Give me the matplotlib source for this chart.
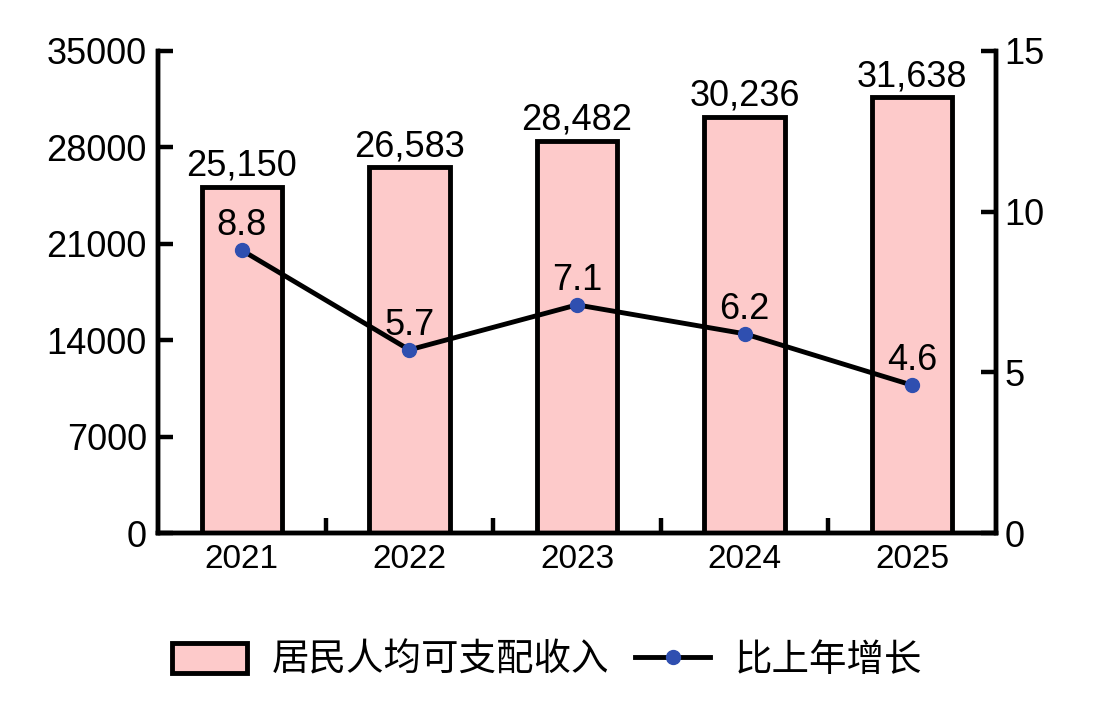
import matplotlib
matplotlib.use("Agg")
import matplotlib.pyplot as plt
from matplotlib.ticker import FixedLocator
import numpy as np

plt.rcParams['font.family'] = ['Liberation Sans', 'Noto Sans CJK SC', 'DejaVu Sans']

years = ["2021", "2022", "2023", "2024", "2025"]
income = [25150, 26583, 28482, 30236, 31638]
growth = [8.8, 5.7, 7.1, 6.2, 4.6]
left_ticks = [0, 7000, 14000, 21000, 28000, 35000]
right_ticks = [0, 5, 10, 15]
bar_label = "居民人均可支配收入"
line_label = "比上年增长"

bar_color = "#FDCACA"
dot_color = "#2F4FB0"

fig = plt.figure(figsize=(10.94, 7.06), dpi=100)
ax = fig.add_axes([0.1444, 0.245, 0.766, 0.6828])
x = np.arange(len(years))

bars = ax.bar(x, income, width=0.48, color=bar_color, edgecolor="black",
              linewidth=3.5, label=bar_label, zorder=2)
ax.set_xlim(-0.5, len(years) - 0.5)
ax.set_ylim(0, 35000)
ax.set_yticks(left_ticks)
ax.set_xticks(x)
ax.set_xticklabels(years, fontsize=24)
ax.xaxis.set_minor_locator(FixedLocator(x[:-1] + 0.5))
ax.tick_params(axis='x', which='major', length=0, pad=8)
ax.tick_params(axis='x', which='minor', direction='in', length=11, width=3.2)
ax.tick_params(axis='y', direction='in', length=11, width=3.2, labelsize=26, pad=8)
for s in ['left', 'bottom', 'right']:
    ax.spines[s].set_linewidth(3.2)
ax.spines['top'].set_visible(False)

for xi, v in zip(x, income):
    ax.annotate(f"{v:,}", (xi, v), xytext=(0, 2), textcoords='offset points',
                ha='center', va='bottom', fontsize=26)

ax2 = ax.twinx()
ax2.set_ylim(0, 15)
ax2.set_yticks(right_ticks)
ax2.tick_params(axis='y', direction='in', length=11, width=3.2, labelsize=26, pad=6)
for s in ['left', 'bottom', 'right']:
    ax2.spines[s].set_linewidth(3.2)
ax2.spines['top'].set_visible(False)
line, = ax2.plot(x, growth, color="black", linewidth=3.5, marker='o',
                 markersize=10, markerfacecolor=dot_color, markeredgecolor=dot_color,
                 label=line_label, zorder=3)
for xi, v in zip(x, growth):
    ax2.annotate(f"{v}", (xi, v), xytext=(0, 5), textcoords='offset points',
                 ha='center', va='bottom', fontsize=26)

fig.legend([bars, line], [bar_label, line_label], loc='center',
           bbox_to_anchor=(0.5, 0.065), ncol=2, frameon=False,
           handlelength=2.0, handleheight=0.85, handletextpad=0.65,
           columnspacing=0.7, prop={'family': ['Noto Sans CJK SC', 'DejaVu Sans'], 'size': 27})

fig.savefig("out.png", dpi=100)
